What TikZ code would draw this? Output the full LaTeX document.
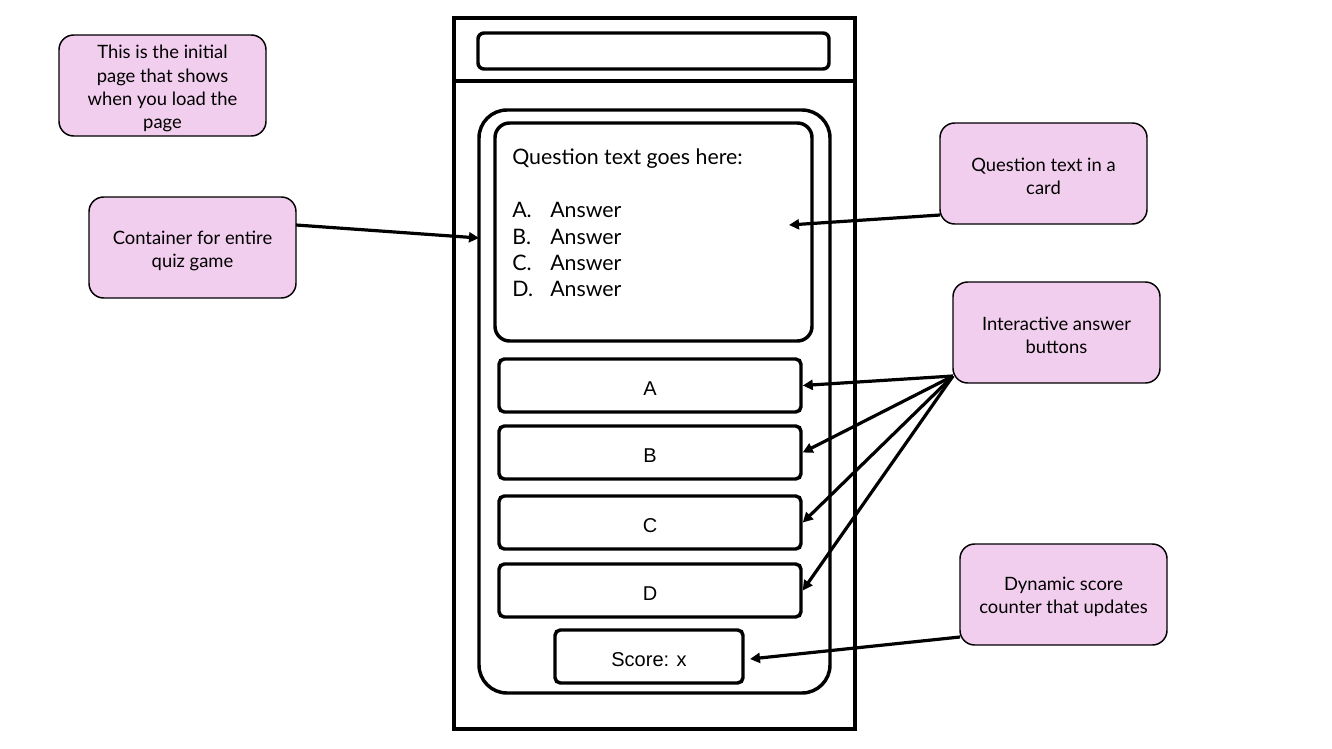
\documentclass[tikz,border=0pt]{standalone}
\usepackage{fontspec}
\setmainfont{Lato}
\newfontfamily\arialfont{Liberation Sans}
\usetikzlibrary{fit,arrows.meta}
\definecolor{notepink}{RGB}{242,206,238}

\begin{document}
\begin{tikzpicture}[x=0.75pt,y=-0.75pt,
  frame/.style={draw, line width=3pt, inner sep=0pt},
  panel/.style={draw, line width=2.6pt, inner sep=0pt, rounded corners=#1},
  panel/.default=4pt,
  note/.style={draw, fill=notepink, line width=1.1pt, rounded corners=11pt, inner sep=0pt},
  notetext/.style={inner sep=0pt, align=center, font=\fontsize{13.8}{17.5}\selectfont},
  btnlabel/.style={inner sep=0pt, font=\arialfont\fontsize{15}{18}\selectfont},
  pointer/.style={-{Triangle[length=7.5pt,width=7.5pt]}, line width=2.4pt},
]
\useasboundingbox (0,0) rectangle (1332,749);

% phone frame with header bar
\node[frame, fit={(454,18) (855,729)}] (phone) {};
\draw[line width=3pt] (phone.west |- 0,81) -- (phone.east |- 0,81);
\node[panel=4.5pt, fit={(478,33) (829,69)}] (search) {};

% quiz container and question card
\node[panel=21pt, fit={(479,110) (830,693)}] (cont) {};
\node[panel=11pt, fit={(495,123) (812,341)}] (card) {};
\node[anchor=north west, inner sep=0pt, align=left,
      font=\fontsize{16}{19.8}\selectfont] (qtext) at (512,149)
  {Question text goes here:\\[19.8pt]
   \makebox[28.5pt][l]{A.}Answer\\
   \makebox[28.5pt][l]{B.}Answer\\
   \makebox[28.5pt][l]{C.}Answer\\
   \makebox[28.5pt][l]{D.}Answer};

% answer buttons and score
\node[panel, fit={(499,359) (801,412)}] (btnA) {};
\node[panel, fit={(499,426) (801,479)}] (btnB) {};
\node[panel, fit={(499,496) (801,549)}] (btnC) {};
\node[panel, fit={(499,564) (801,617)}] (btnD) {};
\node[panel, fit={(555,630) (743,683)}] (score) {};
\node[btnlabel] (la) at (650,389) {A};
\node[btnlabel] (lb) at (650,456) {B};
\node[btnlabel] (lc) at (650,526) {C};
\node[btnlabel] (ld) at (650,594) {D};
\node[btnlabel] (ls) at (649,660) {Score: x};

% annotation notes
\node[note, fit={(59,35) (266,136)}] (nInit) {};
\node[note, fit={(89,197) (296,298)}] (nCont) {};
\node[note, fit={(940,123) (1147,224)}] (nCard) {};
\node[note, fit={(953,282) (1160,383)}] (nBtn) {};
\node[note, fit={(960,544) (1167,645)}] (nScore) {};
\node[notetext] (tInit) at ([yshift=-2.5pt]nInit.center)
  {This is the initial\\page that shows\\when you load the\\page};
\node[notetext] (tCont) at ([yshift=-2.5pt]nCont.center) {Container for entire\\quiz game};
\node[notetext] (tCard) at ([yshift=-2pt]nCard.center) {Question text in a\\card};
\node[notetext] (tBtn) at ([yshift=-2pt]nBtn.center) {Interactive answer\\buttons};
\node[notetext] (tScore) at ([yshift=-2pt]nScore.center) {Dynamic score\\counter that updates};

% connector end points
\coordinate (cs) at (296,225);
\coordinate (ce) at (479,238);
\coordinate (qs) at (940,215);
\coordinate (qe) at (789,225);
\coordinate (bs) at (953,376);
\coordinate (ss) at (960,637);
\coordinate (se) at (750,659);

\draw[pointer] (cs) -- (ce);
\draw[pointer] (qs) -- (qe);
\draw[pointer] (bs) -- (btnA.east);
\draw[pointer] (bs) -- (btnB.east);
\draw[pointer] (bs) -- (btnC.east);
\draw[pointer] (bs) -- (btnD.east);
\draw[pointer] (ss) -- (se);
\end{tikzpicture}
\end{document}
